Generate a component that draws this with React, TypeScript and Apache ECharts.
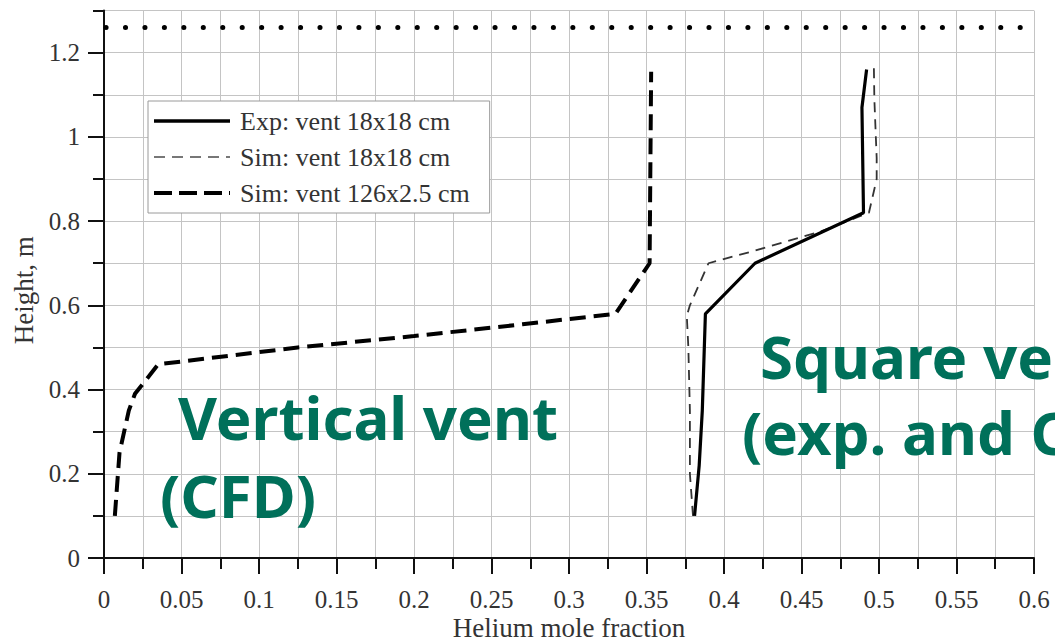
import React, { useEffect, useRef } from "react";
import * as echarts from "echarts";

// ---- data ----
const seriesNames = ["Exp: vent 18x18 cm", "Sim: vent 18x18 cm", "Sim: vent 126x2.5 cm"];

// helium mole fraction (x), height in m (y)
const expSquareVent: [number, number][] = [
  [0.381, 0.1], [0.384, 0.22], [0.386, 0.35], [0.388, 0.58], [0.42, 0.7],
  [0.49, 0.82], [0.489, 1.07], [0.492, 1.16],
];
const simSquareVent: [number, number][] = [
  [0.38, 0.1], [0.378, 0.2], [0.378, 0.35], [0.377, 0.5], [0.376, 0.575],
  [0.378, 0.6], [0.39, 0.7], [0.42, 0.73], [0.462, 0.775], [0.4935, 0.82],
  [0.4985, 0.9], [0.4985, 0.95], [0.497, 1.09], [0.4967, 1.165],
];
const simVerticalVent: [number, number][] = [
  [0.007, 0.1], [0.008, 0.15], [0.01, 0.25], [0.013, 0.3], [0.016, 0.35],
  [0.02, 0.39], [0.035, 0.46], [0.125, 0.5], [0.2, 0.527], [0.27, 0.555],
  [0.33, 0.58], [0.352, 0.7], [0.353, 1.155],
];
const ceilingHeight: [number, number][] = [[0, 1.26], [0.6, 1.26]];

const yLabelValues = [0, 0.2, 0.4, 0.6, 0.8, 1, 1.2];
const annotationTexts = ["Vertical vent", "(CFD)", "Square vent", "(exp. and CFD)"];

const serif = '"Liberation Serif", "Times New Roman", serif';
const sans = '"Noto Sans", "Open Sans", sans-serif';
const green = "#00705A";
const axisColor = "#111";
const gridColor = "#c4c4c4";

export default function App() {
  const ref = useRef<HTMLDivElement>(null);
  useEffect(() => {
    if (!ref.current) return;
    const chart = echarts.init(ref.current, undefined, { renderer: "svg" });
    const annotPos = [
      { left: 178, top: 387 },
      { left: 160, top: 465 },
      { left: 760, top: 326 },
      { left: 742, top: 402 },
    ];
    const legendLineStyles = [
      { color: "#000", width: 3.5, type: "solid" },
      { color: "#777", width: 2, type: [11, 7] },
      { color: "#000", width: 4, type: [18, 7] },
    ];
    chart.setOption({
      animation: false,
      backgroundColor: "#fff",
      grid: { left: 104, right: 21, top: 10.6, bottom: 84, outerBoundsMode: "none", containLabel: false },
      legend: {
        data: seriesNames.map((n, i) => ({ name: n, lineStyle: legendLineStyles[i] })),
        orient: "vertical",
        left: 148,
        top: 101,
        padding: [7, 20, 7, 4],
        itemWidth: 76,
        itemHeight: 14,
        itemGap: 10,
        backgroundColor: "#fff",
        borderColor: "#9a9a9a",
        borderWidth: 1,
        itemStyle: { opacity: 0, borderWidth: 0 },
        textStyle: { fontFamily: serif, fontSize: 26, color: "#333", padding: [0, 0, 0, 5] },
      },
      xAxis: {
        type: "value",
        min: 0,
        max: 0.6,
        interval: 0.05,
        name: "Helium mole fraction",
        nameLocation: "middle",
        nameGap: 56,
        nameMoveOverlap: false,
        nameTextStyle: { fontFamily: serif, fontSize: 27, color: "#333" },
        axisLine: { show: true, onZero: false, lineStyle: { color: axisColor, width: 2 } },
        axisTick: { show: true, inside: false, length: 16, lineStyle: { color: axisColor, width: 2 } },
        minorTick: { show: true, splitNumber: 2, length: 11, lineStyle: { color: axisColor, width: 2 } },
        axisLabel: { fontFamily: serif, fontSize: 25, color: "#333", margin: 29 },
        splitLine: { show: true, lineStyle: { color: gridColor, width: 1 } },
        minorSplitLine: { show: true, lineStyle: { color: gridColor, width: 1 } },
      },
      yAxis: [
        {
          type: "value",
          min: 0,
          max: 1.3,
          interval: 0.1,
          name: "Height, m",
          nameLocation: "middle",
          nameGap: 64,
          nameTextStyle: { fontFamily: serif, fontSize: 27, color: "#333", padding: [0, 12, 0, 0] },
          axisLine: { show: true, onZero: false, lineStyle: { color: axisColor, width: 2 } },
          axisTick: { show: true, inside: false, length: 11, lineStyle: { color: axisColor, width: 2 } },
          axisLabel: {
            fontFamily: serif, fontSize: 25, color: "#333", margin: 24,
            customValues: yLabelValues,
          },
          splitLine: { show: true, lineStyle: { color: gridColor, width: 1 } },
        },
        {
          type: "value",
          min: 0,
          max: 1.3,
          position: "left",
          axisLine: { show: false },
          axisTick: {
            show: true, inside: false, length: 16, customValues: yLabelValues,
            lineStyle: { color: axisColor, width: 2 },
          },
          axisLabel: { show: false },
          splitLine: { show: false },
        },
      ],
      graphic: annotationTexts.map((t, i) => ({
        type: "text",
        left: annotPos[i].left,
        top: annotPos[i].top,
        z: 100,
        style: { text: t, fill: green, font: `bold 60px ${sans}` },
      })),
      series: [
        {
          name: seriesNames[0],
          type: "line",
          data: expSquareVent,
          symbol: "none",
          lineStyle: { color: "#000", width: 3.2, type: "solid" },
          itemStyle: { color: "#000" },
          z: 5,
        },
        {
          name: seriesNames[1],
          type: "line",
          data: simSquareVent,
          symbol: "none",
          lineStyle: { color: "#333", width: 1.8, type: [10, 7] },
          itemStyle: { color: "#333" },
          z: 4,
        },
        {
          name: seriesNames[2],
          type: "line",
          data: simVerticalVent,
          symbol: "none",
          lineStyle: { color: "#000", width: 4, type: [16, 8] },
          itemStyle: { color: "#000" },
          z: 4,
        },
        {
          name: "ceiling",
          type: "line",
          data: ceilingHeight,
          symbol: "none",
          silent: true,
          clip: false,
          lineStyle: { color: "#000", width: 5, type: [0.1, 19.35], dashOffset: -2, cap: "round" },
          z: 3,
        },
      ],
    });
    return () => chart.dispose();
  }, []);
  return (
    <div
      ref={ref}
      style={{ position: "absolute", left: 0, top: 0, width: 1055, height: 642 }}
    />
  );
}
